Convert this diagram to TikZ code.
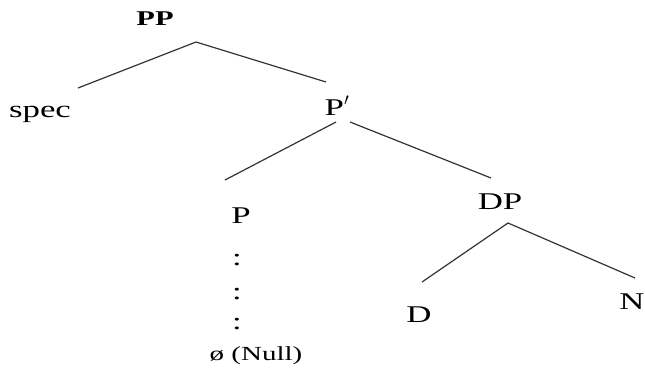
\documentclass[tikz,border=0pt]{standalone}
\usepackage{fontspec}
\setmainfont{Liberation Serif}[FakeStretch=1.45]
\begin{document}
\begin{tikzpicture}[x=1pt,y=-1pt,
  lbl/.style={inner sep=0pt,anchor=base,font=\fontsize{24}{28}\selectfont},
  edge/.style={line width=1.2pt,draw=black!80}]
\useasboundingbox (0,0) rectangle (645,373);
% labels
\node[lbl,font=\fontsize{21}{25}\selectfont\bfseries] (PP) at (155,25) {PP};
\node[lbl] (spec) at (40,117) {spec};
\node[lbl] (Pbar) at (337,115) {P$'$};
\node[lbl] (P) at (241,223) {P};
\node[lbl] (DP) at (500,209) {DP};
\node[lbl] (D) at (419,322) {D};
\node[lbl] (N) at (632,309) {N};
\node[lbl] (c1) at (237,265) {:};
\node[lbl] (c2) at (237,299) {:};
\node[lbl] (c3) at (237,329) {:};
\node[lbl,font=\fontsize{20}{24}\selectfont] (null) at (256,360) {ø (Null)};
% connector end points
\coordinate (ppA) at (196,42);
\coordinate (ppL) at (78,88);
\coordinate (ppR) at (326,82);
\coordinate (pbL) at (336,122);
\coordinate (pbR) at (350,122);
\coordinate (pE) at (225,180);
\coordinate (dpE) at (491,178);
\coordinate (dpA) at (508,223);
\coordinate (dE) at (422,282);
\coordinate (nE) at (635,278);
% connectors
\draw[edge] (ppL) -- (ppA) -- (ppR);
\draw[edge] (pbL) -- (pE);
\draw[edge] (pbR) -- (dpE);
\draw[edge] (dE) -- (dpA) -- (nE);
\end{tikzpicture}
\end{document}
